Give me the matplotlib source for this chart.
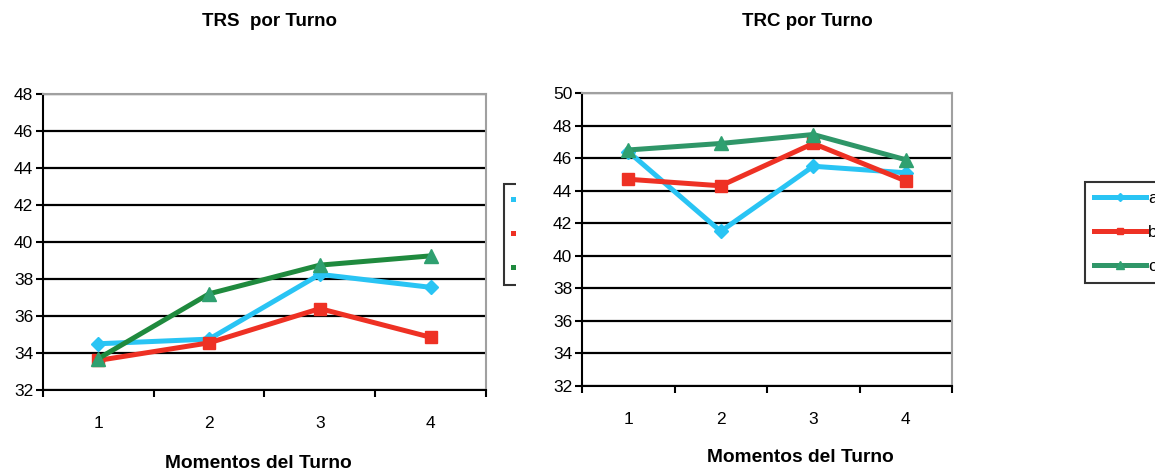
import matplotlib.pyplot as plt
from matplotlib.patches import Rectangle

plt.rcParams['font.family'] = ['Liberation Sans', 'DejaVu Sans']

momentos = [1, 2, 3, 4]
series = ['a', 'b', 'c']

trs_a = [34.5, 34.75, 38.25, 37.55]
trs_b = [33.6, 34.55, 36.4, 34.85]
trs_c = [33.7, 37.2, 38.75, 39.25]

trc_a = [46.4, 41.5, 45.5, 45.1]
trc_b = [44.7, 44.3, 46.9, 44.6]
trc_c = [46.5, 46.9, 47.45, 45.9]

colores = ['#29c4f4', '#ee3124', '#2a9463']
marcadores = ['D', 's', '^']
tam = [7, 8, 10]

W, H = 1155, 473
fig = plt.figure(figsize=(W / 100, H / 100), dpi=100)


def caja(x0, y0, x1, y1):
    return [x0 / W, 1 - y1 / H, (x1 - x0) / W, (y1 - y0) / H]


def grafico(ax, datos, ymax, verde):
    cols = colores[:2] + [verde]
    for vals, c, m, s, lab in zip(datos, cols, marcadores, tam, series):
        mc = '#2fa070' if m == '^' else c
        ax.plot(momentos, vals, color=c, lw=3.6, marker=m, ms=s,
                mfc=mc, mec=mc, label=lab, zorder=3)
    ax.set_xlim(0.5, 4.5)
    ax.set_ylim(32, ymax)
    ax.set_yticks(range(32, ymax + 1, 2))
    ax.set_xticks(momentos)
    ax.set_xticks([0.5, 1.5, 2.5, 3.5, 4.5], minor=True)
    ax.tick_params(axis='x', which='major', length=0, pad=19, labelsize=12.5)
    ax.tick_params(axis='x', which='minor', length=5, width=1.5, direction='out')
    ax.tick_params(axis='y', length=5, width=1.5, pad=2, labelsize=12.5)
    ax.grid(axis='y', color='black', lw=1.6, zorder=1)
    for s in ['top', 'right']:
        ax.spines[s].set_color('#a0a0a0')
        ax.spines[s].set_linewidth(1.5)
    for s in ['left', 'bottom']:
        ax.spines[s].set_color('black')
        ax.spines[s].set_linewidth(1.5)
    ax.set_axisbelow(True)


def leyenda(ax, x, y):
    lg = ax.legend(loc='upper left', bbox_to_anchor=(x / W, 1 - y / H),
                   bbox_transform=fig.transFigure, borderaxespad=0, fancybox=False,
                   edgecolor='black', handlelength=3.0, labelspacing=1.1,
                   handletextpad=0.15, markerscale=0.6, fontsize=12.5, borderpad=0.5)
    lg.get_frame().set_linewidth(1.5)


ax1 = fig.add_axes(caja(43, 94, 486, 390))
grafico(ax1, [trs_a, trs_b, trs_c], 48, '#1f8a3e')
leyenda(ax1, 504, 184)
ax1.set_zorder(0)

# fondo blanco del segundo grafico, tapa la leyenda del primero
fig.add_artist(Rectangle((516 / W, 0), 1 - 516 / W, 1, transform=fig.transFigure,
                         facecolor='white', edgecolor='none', zorder=0.5))

ax2 = fig.add_axes(caja(582, 93, 952, 386))
grafico(ax2, [trc_a, trc_b, trc_c], 50, '#2f9668')
leyenda(ax2, 1085, 182)
ax2.set_zorder(1)

fig.text(270 / W, 1 - 22 / H, 'TRS  por Turno', ha='center', va='center',
         fontsize=13.5, fontweight='bold', zorder=3)
fig.text(807 / W, 1 - 22 / H, 'TRC por Turno', ha='center', va='center',
         fontsize=13.5, fontweight='bold', zorder=3)
fig.text(258 / W, 1 - 463 / H, 'Momentos del Turno', ha='center', va='center',
         fontsize=13.8, fontweight='bold', zorder=3)
fig.text(800 / W, 1 - 457 / H, 'Momentos del Turno', ha='center', va='center',
         fontsize=13.8, fontweight='bold', zorder=3)

fig.savefig('out.png', dpi=100, facecolor='white')
